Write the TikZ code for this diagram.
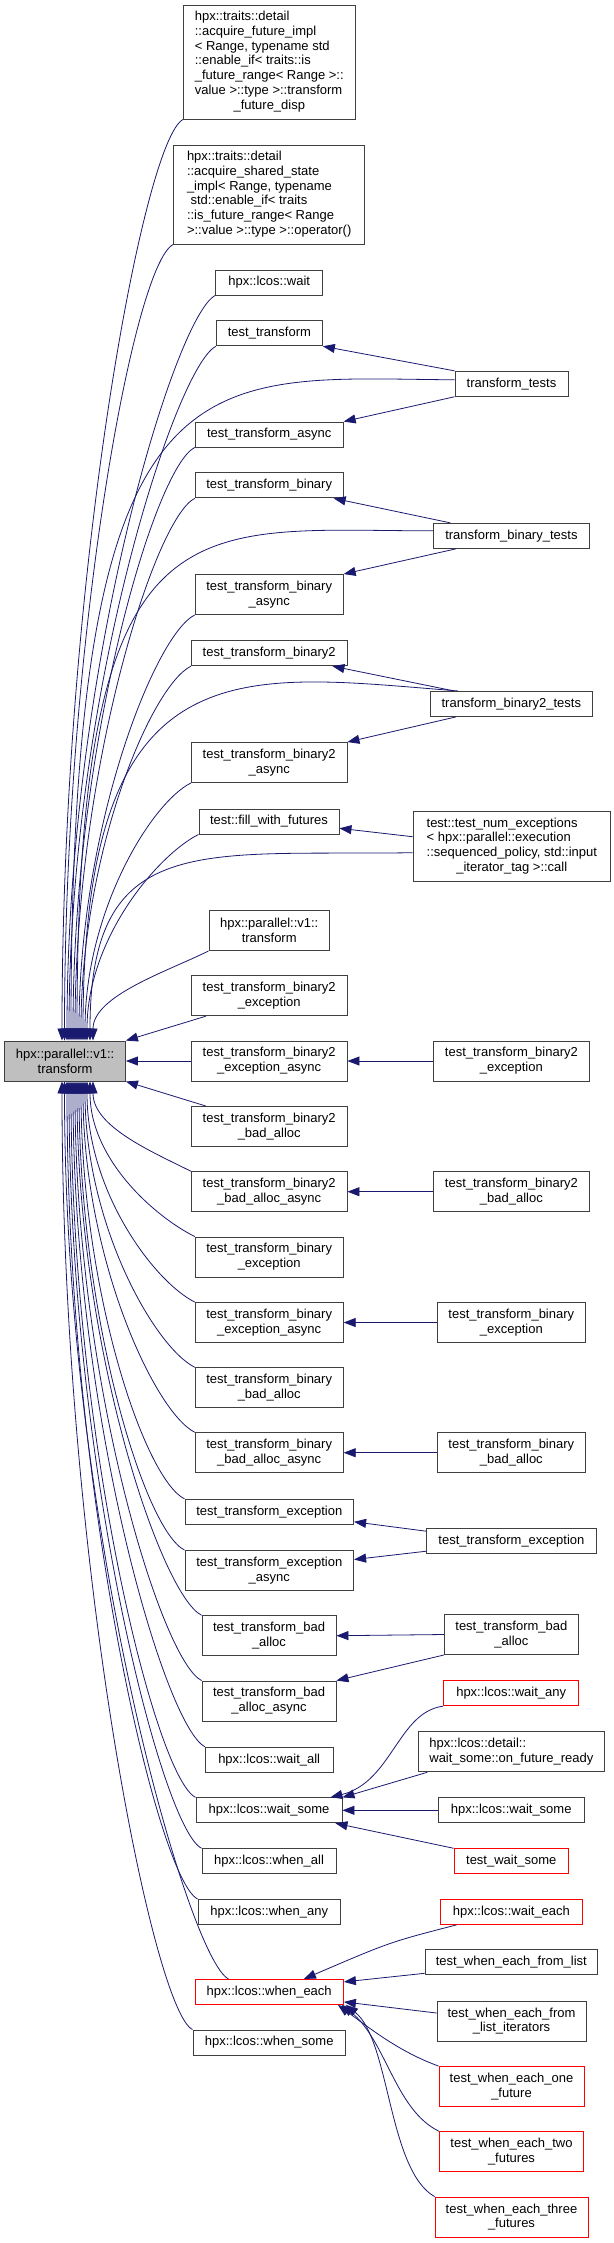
\documentclass[tikz,border=0pt]{standalone}
\usepackage{fontspec}
\setmainfont{Liberation Sans}
\usetikzlibrary{arrows.meta,calc}
\definecolor{edgeblue}{HTML}{191970}
\definecolor{boxline}{HTML}{404040}
\definecolor{mainfill}{HTML}{BFBFBF}
\definecolor{redline}{HTML}{FF0000}
\begin{document}
\begin{tikzpicture}[x=1pt,y=-1pt,
  box/.style={draw=boxline, fill=white, line width=0.9pt, inner sep=0pt, minimum height=25pt, align=center, font=\fontsize{13}{14.8}\selectfont},
  two/.style={minimum height=40pt},
  redbox/.style={box, draw=redline},
  callarrow/.style={draw=edgeblue, line width=0.8pt, -{Triangle[length=12pt,width=9pt]}},
]
\useasboundingbox[fill=white] (0,0) rectangle (613,2243);

% ---------- middle column (above main) ----------
\node[box, minimum width=171.5pt, minimum height=114pt] (acqfut) at (269.3,62) {\begin{tabular}{@{}l@{}}hpx::traits::detail\\::acquire\_future\_impl\\< Range, typename std\\::enable\_if< traits::is\\\_future\_range< Range >::\\value >::type >::transform\\\multicolumn{1}{@{}c@{}}{\_future\_disp}\end{tabular}};
\node[box, minimum width=191pt, minimum height=99pt] (acqss) at (269.2,194.5) {\begin{tabular}{@{}l@{}}hpx::traits::detail\\::acquire\_shared\_state\\\_impl< Range, typename\\\ std::enable\_if< traits\\::is\_future\_range< Range\\\multicolumn{1}{@{}c@{}}{>::value >::type >::operator()}\end{tabular}};
\node[box, minimum width=107pt] (lwait) at (269.2,282.5) {hpx::lcos::wait};
\node[box, minimum width=106pt] (tt) at (269.4,333.3) {test\_transform};
\node[box, minimum width=148pt] (tta) at (269.2,434.5) {test\_transform\_async};
\node[box, minimum width=148pt] (ttb) at (269.2,485.4) {test\_transform\_binary};
\node[box, two, minimum width=148pt] (ttba) at (269.2,594.5) {test\_transform\_binary\\\_async};
\node[box, minimum width=155.6pt] (ttb2) at (269.2,653.2) {test\_transform\_binary2};
\node[box, two, minimum width=155.6pt] (ttb2a) at (269.2,762.5) {test\_transform\_binary2\\\_async};
\node[box, minimum width=140pt] (fill) at (269,821.5) {test::fill\_with\_futures};
\node[box, two, minimum width=120.4pt] (pv1) at (269.2,930.5) {hpx::parallel::v1::\\transform};
\node[box, two, minimum width=155.6pt] (ttb2e) at (269.2,995.7) {test\_transform\_binary2\\\_exception};

% ---------- main ----------
\node[box, two, fill=mainfill, minimum width=120.8pt] (main) at (65.1,1061) {hpx::parallel::v1::\\transform};

% ---------- middle column (level of and below main) ----------
\node[box, two, minimum width=155.6pt] (ttb2ea) at (269.2,1061) {test\_transform\_binary2\\\_exception\_async};
\node[box, two, minimum width=155.6pt] (ttb2b) at (269.2,1126.5) {test\_transform\_binary2\\\_bad\_alloc};
\node[box, two, minimum width=155.6pt] (ttb2ba) at (269.2,1191.7) {test\_transform\_binary2\\\_bad\_alloc\_async};
\node[box, two, minimum width=148pt] (ttbe) at (269.2,1257) {test\_transform\_binary\\\_exception};
\node[box, two, minimum width=148pt] (ttbea) at (269.2,1322.5) {test\_transform\_binary\\\_exception\_async};
\node[box, two, minimum width=148pt] (ttbb) at (269.2,1387.7) {test\_transform\_binary\\\_bad\_alloc};
\node[box, two, minimum width=148pt] (ttbba) at (269.2,1452.7) {test\_transform\_binary\\\_bad\_alloc\_async};
\node[box, minimum width=168.7pt] (tte) at (269.3,1511.8) {test\_transform\_exception};
\node[box, two, minimum width=168.7pt] (ttea) at (269.3,1570.5) {test\_transform\_exception\\\_async};
\node[box, two, minimum width=134pt] (ttbad) at (269,1635.7) {test\_transform\_bad\\\_alloc};
\node[box, two, minimum width=134pt] (ttbada) at (269,1701) {test\_transform\_bad\\\_alloc\_async};
\node[box, minimum width=127.5pt] (waitall) at (269.2,1759.7) {hpx::lcos::wait\_all};
\node[box, minimum width=146pt] (waitsome) at (269,1810.3) {hpx::lcos::wait\_some};
\node[box, minimum width=134pt] (whenall) at (269,1861.2) {hpx::lcos::when\_all};
\node[box, minimum width=142.4pt] (whenany) at (269.2,1911.9) {hpx::lcos::when\_any};
\node[redbox, minimum width=148.5pt] (wheneach) at (269.2,1991.9) {hpx::lcos::when\_each};
\node[box, minimum width=152.5pt] (whensome) at (269.2,2042.5) {hpx::lcos::when\_some};

% ---------- right column ----------
\node[box, minimum width=113pt] (ttests) at (511.5,383.8) {transform\_tests};
\node[box, minimum width=155.3pt] (tbtests) at (511.4,535.8) {transform\_binary\_tests};
\node[box, minimum width=161.4pt] (tb2tests) at (511.3,703.9) {transform\_binary2\_tests};
\node[box, minimum width=197.6pt, minimum height=69.4pt] (numexc) at (511.8,846.3) {\begin{tabular}{@{}l@{}}test::test\_num\_exceptions\\< hpx::parallel::execution\\::sequenced\_policy, std::input\\\multicolumn{1}{@{}c@{}}{\_iterator\_tag >::call}\end{tabular}};
\node[box, two, minimum width=155.3pt] (rttb2e) at (511.4,1061) {test\_transform\_binary2\\\_exception};
\node[box, two, minimum width=155.3pt] (rttb2b) at (511.4,1191.7) {test\_transform\_binary2\\\_bad\_alloc};
\node[box, two, minimum width=147.4pt] (rttbe) at (511.3,1322.5) {test\_transform\_binary\\\_exception};
\node[box, two, minimum width=147.4pt] (rttbb) at (511.3,1452.7) {test\_transform\_binary\\\_bad\_alloc};
\node[box, minimum width=169.3pt] (rtte) at (511.4,1541.2) {test\_transform\_exception};
\node[box, two, minimum width=134pt] (rttbad) at (511.4,1634.5) {test\_transform\_bad\\\_alloc};
\node[redbox, minimum width=135.3pt] (waitany) at (511.2,1693.2) {hpx::lcos::wait\_any};
\node[box, two, minimum width=185.2pt] (onready) at (511.4,1751.8) {\begin{tabular}{@{}l@{}}hpx::lcos::detail::\\\multicolumn{1}{@{}c@{}}{wait\_some::on\_future\_ready}\end{tabular}};
\node[box, minimum width=146.3pt] (rwaitsome) at (511.2,1810.3) {hpx::lcos::wait\_some};
\node[redbox, minimum width=114.6pt] (testwaitsome) at (511.3,1861.2) {test\_wait\_some};
\node[redbox, minimum width=142.7pt] (waiteach) at (511.4,1911.9) {hpx::lcos::wait\_each};
\node[box, minimum width=172.6pt] (fromlist) at (511.3,1962.3) {test\_when\_each\_from\_list};
\node[box, two, minimum width=149pt] (fromiter) at (511.5,2021) {test\_when\_each\_from\\\_list\_iterators};
\node[redbox, two, minimum width=145pt] (onefut) at (511.5,2086.5) {test\_when\_each\_one\\\_future};
\node[redbox, two, minimum width=144pt] (twofut) at (511.5,2151.7) {test\_when\_each\_two\\\_futures};
\node[redbox, two, minimum width=153pt] (threefut) at (511.5,2217) {test\_when\_each\_three\\\_futures};

% ---------- edges into main from above ----------
\draw[callarrow] (acqfut.south west) .. controls +(-40,20) and +(0,-461) .. ($(main.north)+(-3.1,0)$);
\draw[callarrow] (acqss.south west) .. controls +(-40,20) and +(0,-398) .. ($(main.north)+(-0.6,0)$);
\draw[callarrow] (lwait.south west) .. controls +(-40,20) and +(0,-373) .. ($(main.north)+(1.9,0)$);
\draw[callarrow] (tt.south west) .. controls +(-40,20) and +(0,-347) .. ($(main.north)+(3.9,0)$);
\draw[callarrow] ($(ttests.west)+(0,-4)$) .. controls (200,378) and ($(main.north)+(5.9,-700)$) .. ($(main.north)+(5.9,0)$);
\draw[callarrow] (tta.south west) .. controls +(-40,20) and +(0,-297) .. ($(main.north)+(7.9,0)$);
\draw[callarrow] (ttb.south west) .. controls +(-40,20) and +(0,-271) .. ($(main.north)+(9.9,0)$);
\draw[callarrow] ($(tbtests.west)+(0,-5)$) .. controls (190,531) and ($(main.north)+(11.9,-550)$) .. ($(main.north)+(11.9,0)$);
\draw[callarrow] (ttba.south west) .. controls +(-40,20) and +(0,-213) .. ($(main.north)+(13.9,0)$);
\draw[callarrow] (ttb2.south west) .. controls +(-40,20) and +(0,-188) .. ($(main.north)+(15.9,0)$);
\draw[callarrow] ($(tb2tests.north west)+(28,0)$) .. controls (240,674) and ($(main.north)+(17.9,-400)$) .. ($(main.north)+(17.9,0)$);
\draw[callarrow] (ttb2a.south west) .. controls +(-40,20) and +(0,-129) .. ($(main.north)+(19.9,0)$);
\draw[callarrow] (fill.south west) .. controls +(-40,20) and +(0,-103) .. ($(main.north)+(21.9,0)$);
\draw[callarrow] ($(numexc.west)+(0,6.4)$) .. controls (200,856) and ($(main.north)+(24.9,-210)$) .. ($(main.north)+(24.9,0)$);
\draw[callarrow] (pv1.south west) .. controls +(-40,20) and +(0,-45) .. ($(main.north)+(27.9,0)$);

% ---------- near edges ----------
\draw[callarrow] ($(ttb2e.south west)+(15,0)$) -- (main.north east);
\draw[callarrow] (ttb2ea.west) -- (main.east);
\draw[callarrow] ($(ttb2b.north west)+(15,0)$) -- (main.south east);

% ---------- edges into main from below ----------
\draw[callarrow] (ttb2ba.north west) .. controls +(-40,-20) and +(0,45) .. ($(main.south)+(27.9,0)$);
\draw[callarrow] (ttbe.north west) .. controls +(-40,-20) and +(0,78) .. ($(main.south)+(24.9,0)$);
\draw[callarrow] (ttbea.north west) .. controls +(-40,-20) and +(0,111) .. ($(main.south)+(21.9,0)$);
\draw[callarrow] (ttbb.north west) .. controls +(-40,-20) and +(0,143) .. ($(main.south)+(19.9,0)$);
\draw[callarrow] (ttbba.north west) .. controls +(-40,-20) and +(0,176) .. ($(main.south)+(17.9,0)$);
\draw[callarrow] (tte.north west) .. controls +(-40,-20) and +(0,209) .. ($(main.south)+(15.9,0)$);
\draw[callarrow] (ttea.north west) .. controls +(-40,-20) and +(0,235) .. ($(main.south)+(13.9,0)$);
\draw[callarrow] (ttbad.north west) .. controls +(-40,-20) and +(0,267) .. ($(main.south)+(11.9,0)$);
\draw[callarrow] (ttbada.north west) .. controls +(-40,-20) and +(0,300) .. ($(main.south)+(9.9,0)$);
\draw[callarrow] (waitall.north west) .. controls +(-40,-20) and +(0,333) .. ($(main.south)+(7.9,0)$);
\draw[callarrow] (waitsome.north west) .. controls +(-40,-20) and +(0,358) .. ($(main.south)+(5.9,0)$);
\draw[callarrow] (whenall.north west) .. controls +(-40,-20) and +(0,384) .. ($(main.south)+(3.9,0)$);
\draw[callarrow] (whenany.north west) .. controls +(-40,-20) and +(0,409) .. ($(main.south)+(1.9,0)$);
\draw[callarrow] ($(wheneach.north west)+(34,0)$) .. controls +(-40,-20) and +(0,449) .. ($(main.south)+(-0.6,0)$);
\draw[callarrow] (whensome.north west) .. controls +(-40,-20) and +(0,475) .. ($(main.south)+(-3.1,0)$);

% ---------- right to middle ----------
\draw[callarrow] (ttests.north west) -- (tt.south east);
\draw[callarrow] (ttests.south west) -- (tta.north east);
\draw[callarrow] ($(tbtests.north west)+(17,0)$) -- ($(ttb.south east)+(-10,0)$);
\draw[callarrow] ($(tbtests.south west)+(23,0)$) -- (ttba.north east);
\draw[callarrow] ($(tb2tests.north west)+(24,0)$) -- ($(ttb2.south east)+(-15,0)$);
\draw[callarrow] ($(tb2tests.south west)+(26,0)$) -- (ttb2a.north east);
\draw[callarrow] ($(numexc.west)+(0,-9.6)$) -- ($(fill.east)+(0,6.8)$);
\draw[callarrow] (rttb2e.west) -- (ttb2ea.east);
\draw[callarrow] (rttb2b.west) -- (ttb2ba.east);
\draw[callarrow] (rttbe.west) -- (ttbea.east);
\draw[callarrow] (rttbb.west) -- (ttbba.east);
\draw[callarrow] ($(rtte.west)+(0,-10)$) -- ($(tte.east)+(0,10)$);
\draw[callarrow] ($(rtte.west)+(0,10)$) -- ($(ttea.east)+(0,-11)$);
\draw[callarrow] (rttbad.west) -- (ttbad.east);
\draw[callarrow] (rttbad.south west) -- (ttbada.north east);
\draw[callarrow] (waitany.south west) .. controls (398,1712) and (392,1782) .. ($(waitsome.north east)+(-12,0)$);
\draw[callarrow] ($(onready.south west)+(9,0)$) -- (waitsome.north east);
\draw[callarrow] (rwaitsome.west) -- (waitsome.east);
\draw[callarrow] (testwaitsome.north west) -- ($(waitsome.south east)+(-7,0)$);
\draw[callarrow] ($(waiteach.south west)+(17,0)$) .. controls (390,1942) .. ($(wheneach.north east)+(-40,0)$);
\draw[callarrow] ($(fromlist.west)+(0,11)$) -- ($(wheneach.east)+(0,-10)$);
\draw[callarrow] ($(fromiter.west)+(0,-8)$) -- ($(wheneach.east)+(0,10)$);
\draw[callarrow] (onefut.north west) .. controls (400,2052) and (372,2030) .. ($(wheneach.south east)+(-6,0)$);
\draw[callarrow] (twofut.north west) .. controls (395,2110) and (386,2040) .. ($(wheneach.south east)+(-2,0)$);
\draw[callarrow] (threefut.north west) .. controls (388,2170) and (390,2040) .. ($(wheneach.south east)+(2,0)$);
\end{tikzpicture}
\end{document}
